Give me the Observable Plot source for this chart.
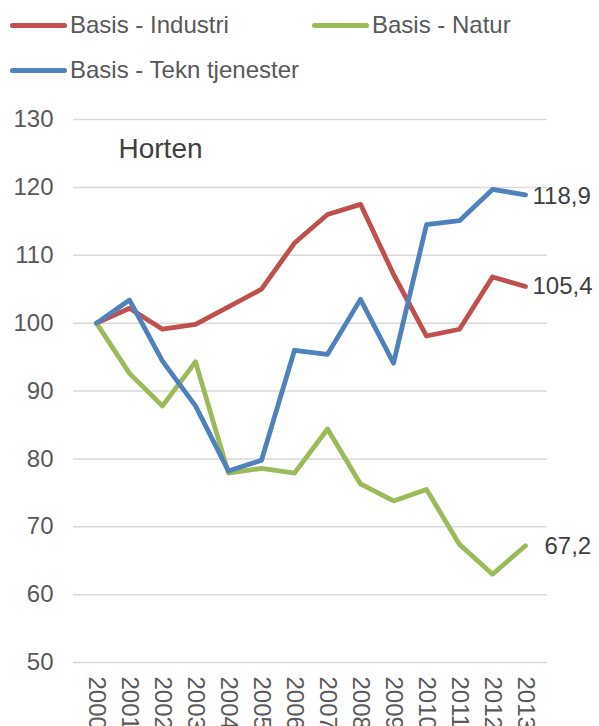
<!DOCTYPE html>
<html><head><meta charset="utf-8">
<script src="https://cdn.jsdelivr.net/npm/d3@7"></script>
<script src="https://cdn.jsdelivr.net/npm/@observablehq/plot@0.6"></script>
<style>
body{margin:0;background:#fff;font-family:"Liberation Sans",Arial,sans-serif;overflow:hidden;}
#wrap{position:relative;width:599px;height:726px;}
.leg{position:absolute;display:flex;align-items:center;font-size:24px;color:#595959;white-space:nowrap;height:34px;}
.sw{width:57px;height:5px;border-radius:3px;margin-right:3px;}
#chart{position:absolute;left:0;top:95px;}
</style></head>
<body><div id="wrap"><div id="legend"></div><div id="chart"></div></div>
<script>
const years = ["2000","2001","2002","2003","2004","2005","2006","2007","2008","2009","2010","2011","2012","2013"];
const seriesNames = ["Basis - Industri","Basis - Natur","Basis - Tekn tjenester"];
const colors = ["#c0504d","#9bbb59","#4f81bd"];
const industri = [100,102.2,99.1,99.8,102.4,105,111.8,116,117.5,107.2,98.1,99.1,106.8,105.4];
const natur = [100,92.6,87.8,94.3,77.9,78.6,77.9,84.4,76.3,73.8,75.5,67.4,63.0,67.2];
const tekn = [100,103.4,94.4,87.8,78.2,79.8,96.0,95.4,103.5,94.1,114.5,115.1,119.7,118.9];
const yTicks = [50,60,70,80,90,100,110,120,130];
const placeName = "Horten";

const allValues = [industri, natur, tekn];
const data = [];
allValues.forEach((vals, si) => vals.forEach((v, i) => data.push({series: seriesNames[si], year: years[i], value: v})));
const last = allValues.map((vals, si) => ({series: seriesNames[si], year: years[years.length-1], value: vals[vals.length-1], label: vals[vals.length-1].toFixed(1).replace(".", ",")}));

// legend
const legendPos = [[10,8],[312,8],[10,53]];
const legend = document.getElementById("legend");
seriesNames.forEach((n, i) => {
  const d = document.createElement("div");
  d.className = "leg";
  d.style.left = legendPos[i][0] + "px";
  d.style.top = legendPos[i][1] + "px";
  d.innerHTML = `<div class="sw" style="background:${colors[i]}"></div><span>${n}</span>`;
  legend.appendChild(d);
});

const plot = Plot.plot({
  width: 599,
  height: 631,
  marginLeft: 73,
  marginRight: 52,
  marginTop: 24,
  marginBottom: 64,
  style: {fontFamily: '"Liberation Sans", Arial, sans-serif', fontSize: "24px", color: "#595959", background: "#fff", overflow: "visible"},
  x: {type: "point", domain: years, padding: 0.5, label: null},
  y: {domain: [50, 130], ticks: yTicks, label: null},
  color: {domain: seriesNames, range: colors},
  marks: [
    Plot.ruleY(yTicks, {stroke: "#d9d9d9", strokeWidth: 1.5}),
    Plot.axisY({ticks: yTicks, tickSize: 0, tickPadding: 20, fill: "#595959", fontSize: 24}),
    Plot.axisX({tickSize: 0, tickRotate: 90, tickPadding: 14, fill: "#595959", fontSize: 24}),
    Plot.line(data, {x: "year", y: "value", z: "series", stroke: "series", strokeWidth: 4.8, strokeLinejoin: "round", strokeLinecap: "round"}),
    Plot.text([last[0]], {x: "year", y: "value", text: "label", textAnchor: "start", dx: 7, dy: 0, fill: "#404040", fontSize: 24}),
    Plot.text([last[2]], {x: "year", y: "value", text: "label", textAnchor: "start", dx: 7, dy: 1.5, fill: "#404040", fontSize: 24}),
    Plot.text([last[1]], {x: "year", y: "value", text: "label", textAnchor: "start", dx: 19, dy: 1, fill: "#404040", fontSize: 24}),
    Plot.text([{year: years[1], value: 125.7, t: placeName}], {x: "year", y: "value", text: "t", textAnchor: "start", dx: -11, fill: "#404040", fontSize: 28})
  ]
});
document.getElementById("chart").appendChild(plot);
</script></body></html>
